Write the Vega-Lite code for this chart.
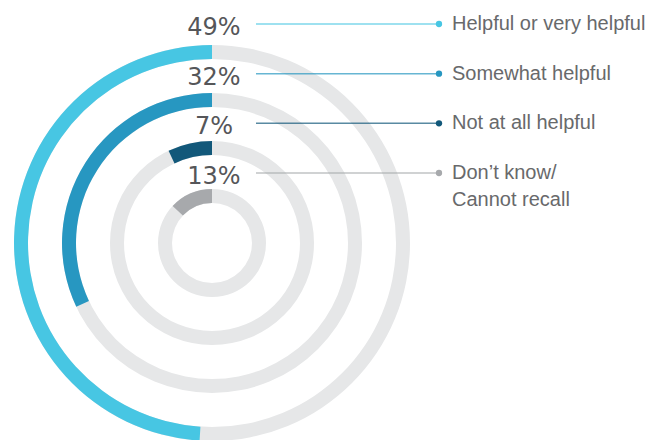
{
  "$schema": "https://vega.github.io/schema/vega-lite/v6.json",
  "width": 660,
  "height": 440,
  "padding": 0,
  "autosize": {"type": "none"},
  "background": "white",
  "view": {"stroke": null},
  "config": {"font": "Liberation Sans"},
  "data": {
    "values": [
      {"category": "Helpful or very helpful", "pct": 0.49},
      {"category": "Somewhat helpful", "pct": 0.32},
      {"category": "Not at all helpful", "pct": 0.07},
      {"category": "Don’t know/\nCannot recall", "pct": 0.13}
    ]
  },
  "layer": [
    {
      "encoding": {
        "x": {"datum": 212, "type": "quantitative", "scale": {"domain": [0, 660], "nice": false, "zero": false}, "axis": null},
        "y": {"datum": 243, "type": "quantitative", "scale": {"domain": [0, 440], "nice": false, "zero": false, "reverse": true}, "axis": null},
        "radius": {
          "field": "category",
          "type": "nominal",
          "scale": {
            "type": "point",
            "domain": ["Don’t know/\nCannot recall", "Not at all helpful", "Somewhat helpful", "Helpful or very helpful"],
            "range": [54, 198],
            "padding": 0
          }
        },
        "radius2": {"field": "category"}
      },
      "layer": [
        {
          "mark": {"type": "arc", "radius2Offset": -14, "color": "#e6e7e8"},
          "encoding": {
            "theta": {"datum": 0, "type": "quantitative", "scale": {"domain": [0, 1], "range": [6.283185307, 0]}},
            "theta2": {"datum": 1}
          }
        },
        {
          "mark": {"type": "arc", "radius2Offset": -14},
          "encoding": {
            "theta": {"field": "pct", "type": "quantitative", "stack": null},
            "theta2": {"datum": 0},
            "color": {
              "field": "category",
              "type": "nominal",
              "scale": {
                "domain": ["Helpful or very helpful", "Somewhat helpful", "Not at all helpful", "Don’t know/\nCannot recall"],
                "range": ["#47c6e3", "#2797c1", "#12587a", "#a7a9ac"]
              },
              "legend": null
            }
          }
        }
      ]
    },
    {
      "encoding": {
        "y": {
          "field": "category",
          "type": "nominal",
          "scale": {
            "type": "point",
            "domain": ["Helpful or very helpful", "Somewhat helpful", "Not at all helpful", "Don’t know/\nCannot recall"],
            "range": [24, 173],
            "padding": 0
          },
          "axis": null
        }
      },
      "layer": [
        {
          "mark": {"type": "rule", "strokeWidth": 1.5, "opacity": 0.7},
          "encoding": {
            "x": {"datum": 256, "type": "quantitative", "scale": {"domain": [0, 660], "nice": false, "zero": false}, "axis": null},
            "x2": {"datum": 439},
            "color": {"field": "category", "type": "nominal", "legend": null}
          }
        },
        {
          "mark": {"type": "point", "filled": true, "size": 40, "opacity": 1},
          "encoding": {
            "x": {"datum": 439, "type": "quantitative"},
            "color": {"field": "category", "type": "nominal", "legend": null}
          }
        },
        {
          "mark": {"type": "text", "font": "DejaVu Sans", "fontSize": 24, "align": "center", "baseline": "alphabetic", "dy": 11, "color": "#555659"},
          "encoding": {
            "x": {"datum": 214, "type": "quantitative"},
            "text": {"field": "pct", "type": "quantitative", "format": ".0%"}
          }
        },
        {
          "mark": {"type": "text", "fontSize": 20, "align": "left", "baseline": "alphabetic", "dy": 6, "lineBreak": "\n", "lineHeight": 27, "color": "#68696b"},
          "encoding": {
            "x": {"datum": 452, "type": "quantitative"},
            "text": {"field": "category", "type": "nominal"}
          }
        }
      ]
    }
  ],
  "resolve": {"scale": {"y": "independent"}}
}
